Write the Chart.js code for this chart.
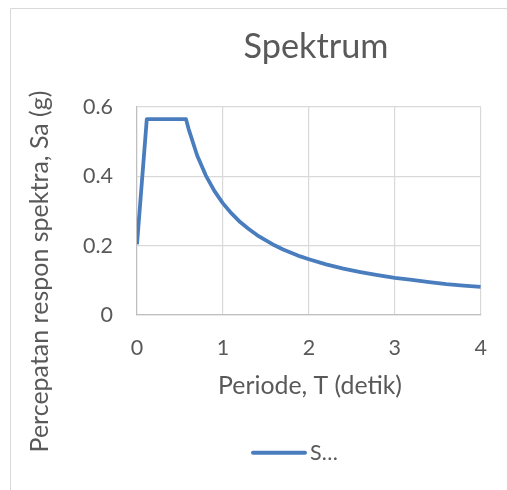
<!DOCTYPE html>
<html>
<head>
<meta charset="utf-8">
<script src="https://cdn.jsdelivr.net/npm/chart.js@4.4.1/dist/chart.umd.min.js"></script>
<style>
html,body{margin:0;padding:0;background:#ffffff;}
#wrap{width:507px;height:490px;position:relative;}
canvas{display:block;}
</style>
</head>
<body>
<div id="wrap"><canvas id="c" width="507" height="490"></canvas></div>
<script>
// ---- data ----
const chartTitle = 'Spektrum';
const xAxisTitle = 'Periode, T (detik)';
const yAxisTitle = 'Percepatan respon spektra, Sa (g)';
const seriesName = 'S…';
const xTickValues = [0, 1, 2, 3, 4];
const yTickValues = [0, 0.2, 0.4, 0.6];
const periods = [0, 0.114, 0.57, 0.6, 0.7, 0.8, 0.9, 1.0, 1.1, 1.2, 1.3, 1.4, 1.5, 1.6, 1.7, 1.8, 1.9, 2.0,
                 2.2, 2.4, 2.6, 2.8, 3.0, 3.2, 3.4, 3.6, 3.8, 4.0];
const spectra = [0.204, 0.565, 0.565, 0.537, 0.460, 0.403, 0.358, 0.322, 0.293, 0.268, 0.248, 0.230, 0.215, 0.201, 0.189, 0.179, 0.169, 0.161,
                 0.146, 0.134, 0.124, 0.115, 0.107, 0.101, 0.095, 0.089, 0.085, 0.081];

// ---- styling ----
const FAMILY = 'Lato, "Open Sans", "DejaVu Sans", sans-serif';
const TEXT = '#595959';
const GRID = '#d9d9d9';
const AXIS = '#bfbfbf';
const LINE = '#4a7dbe';

const mctx = document.createElement('canvas').getContext('2d');
function fitSize(text, width) {
  mctx.font = '100px ' + FAMILY;
  return 100 * width / mctx.measureText(text).width;
}

function build() {
  const titleSize = fitSize(chartTitle, 145);
  const xTitleSize = fitSize(xAxisTitle, 184);
  const yTitleSize = fitSize(yAxisTitle, 362);
  const tickSize = fitSize('0.6', 30);

  const points = periods.map((t, i) => ({x: t, y: spectra[i]}));

  const decor = {
    id: 'decor',
    beforeDraw(chart) {
      const ctx = chart.ctx;
      ctx.save();
      ctx.strokeStyle = GRID;
      ctx.lineWidth = 1;
      ctx.beginPath();
      ctx.moveTo(10.5, 491);
      ctx.lineTo(10.5, 8.5);
      ctx.lineTo(508, 8.5);
      ctx.stroke();
      ctx.restore();
    },
    afterDraw(chart) {
      const ctx = chart.ctx;
      ctx.save();
      ctx.fillStyle = TEXT;
      ctx.textBaseline = 'alphabetic';
      ctx.textAlign = 'center';
      ctx.font = titleSize.toFixed(2) + 'px ' + FAMILY;
      ctx.fillText(chartTitle, 316, 58);
      ctx.font = xTitleSize.toFixed(2) + 'px ' + FAMILY;
      ctx.fillText(xAxisTitle, 310, 393.5);
      ctx.save();
      ctx.translate(48, 271.5);
      ctx.rotate(-Math.PI / 2);
      ctx.font = yTitleSize.toFixed(2) + 'px ' + FAMILY;
      ctx.fillText(yAxisTitle, 0, 0);
      ctx.restore();
      // legend
      ctx.strokeStyle = LINE;
      ctx.lineWidth = 4;
      ctx.lineCap = 'round';
      ctx.beginPath();
      ctx.moveTo(253, 452.7);
      ctx.lineTo(305, 452.7);
      ctx.stroke();
      ctx.textAlign = 'left';
      ctx.font = tickSize.toFixed(2) + 'px ' + FAMILY;
      ctx.fillText(seriesName, 310, 460);
      ctx.restore();
    }
  };

  new Chart(document.getElementById('c'), {
    type: 'scatter',
    data: {
      datasets: [{
        label: seriesName,
        data: points,
        showLine: true,
        borderColor: LINE,
        backgroundColor: LINE,
        borderWidth: 3.8,
        borderJoinStyle: 'round',
        borderCapStyle: 'butt',
        pointRadius: 0,
        pointHoverRadius: 0,
        tension: 0
      }]
    },
    options: {
      responsive: false,
      animation: false,
      events: [],
      layout: {padding: {left: 10, right: 26, top: 107, bottom: 135}},
      plugins: {legend: {display: false}, title: {display: false}, tooltip: {enabled: false}},
      scales: {
        x: {
          type: 'linear',
          min: 0, max: 4,
          afterBuildTicks: s => { s.ticks = xTickValues.map(v => ({value: v})); },
          afterFit: s => { s.height = 40; },
          grid: {color: GRID, lineWidth: 1.2, drawTicks: false},
          border: {color: AXIS, width: 1.2},
          ticks: {color: TEXT, padding: 20, autoSkip: false, maxRotation: 0, font: {family: FAMILY, size: tickSize}, callback: v => String(v)}
        },
        y: {
          type: 'linear',
          min: 0, max: 0.6,
          afterBuildTicks: s => { s.ticks = yTickValues.map(v => ({value: v})); },
          afterFit: s => { s.width = 127; },
          grid: {color: GRID, lineWidth: 1.2, drawTicks: false},
          border: {color: AXIS, width: 1.2},
          ticks: {color: TEXT, padding: 24, autoSkip: false, font: {family: FAMILY, size: tickSize}, callback: v => String(v)}
        }
      }
    },
    plugins: [decor]
  });
}

if (document.fonts && document.fonts.load) {
  document.fonts.load('20px Lato').then(build, build);
} else {
  build();
}
</script>
</body>
</html>
